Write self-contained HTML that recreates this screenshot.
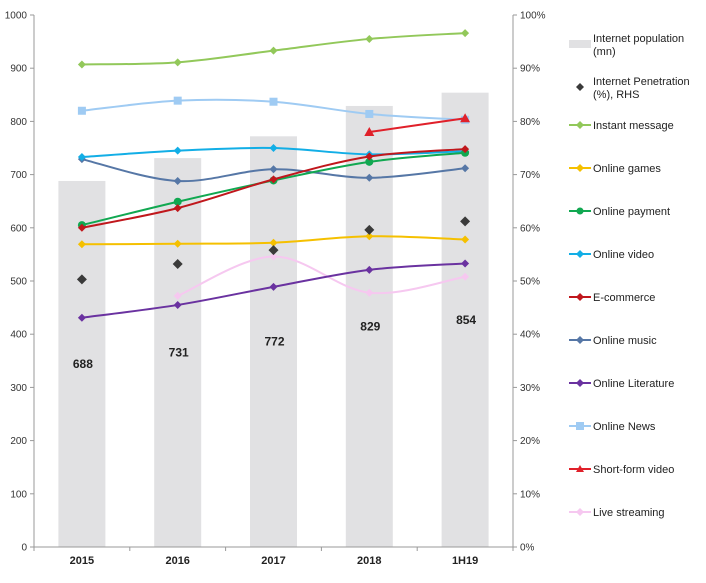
<!DOCTYPE html>
<html><head><meta charset="utf-8"><style>
body{margin:0;background:#fff;font-family:"Liberation Sans",Arial,sans-serif}
svg text{font-family:"Liberation Sans",Arial,sans-serif}
</style></head><body>
<svg id="c" width="706" height="578"></svg>
<script>
const categories=["2015","2016","2017","2018","1H19"];
const population=[688,731,772,829,854];
const penetration=[50.3,53.2,55.8,59.6,61.2];
const instantMessage=[907,911,933,955,966];
const onlineGames=[569,570,572,584,578];
const onlinePayment=[605,649,689,724,741];
const onlineVideo=[733,745,750,738,744];
const eCommerce=[600,637,691,734,748];
const onlineMusic=[729,688,710,694,712];
const onlineLiterature=[431,455,489,521,533];
const onlineNews=[820,839,837,814,803];
const shortVideo=[null,null,null,780,806];
const liveStreaming=[null,472,546,478,508];
const leftTicks=[0,100,200,300,400,500,600,700,800,900,1000];
const rightTicks=["0%","10%","20%","30%","40%","50%","60%","70%","80%","90%","100%"];

const NS="http://www.w3.org/2000/svg";
const svg=document.getElementById('c');
const X0=34,X1=513,Y0=547,Y1=15;
const y=v=>Y0-(v/1000)*(Y0-Y1);
const yr=p=>Y0-(p/100)*(Y0-Y1);
const step=(X1-X0)/categories.length;
const x=i=>X0+step*(i+0.5);
function el(t,a,p){const e=document.createElementNS(NS,t);for(const k in a)e.setAttribute(k,a[k]);(p||svg).appendChild(e);return e;}

population.forEach((v,i)=>{
  const r=el('rect',{x:x(i)-23.5,y:y(v),width:47,height:Y0-y(v),fill:'#e1e1e3'});
  
  
  const t=el('text',{x:x(i)+1,y:(y(v)+Y0)/2+4,'font-size':12,'font-weight':'bold','text-anchor':'middle',fill:'#222'});
  t.textContent=v;
  
  
});
el('line',{x1:X0,y1:Y1,x2:X0,y2:Y0,stroke:'#999'});
el('line',{x1:X1,y1:Y1,x2:X1,y2:Y0,stroke:'#999'});
el('line',{x1:X0,y1:Y0,x2:X1,y2:Y0,stroke:'#999'});
leftTicks.forEach((v,i)=>{
  el('line',{x1:X0-4,y1:y(v),x2:X0,y2:y(v),stroke:'#999'});
  el('line',{x1:X1,y1:y(v),x2:X1+4,y2:y(v),stroke:'#999'});
  const t=el('text',{x:X0-7,y:y(v)+3.5,'font-size':10,'text-anchor':'end',fill:'#333'});t.textContent=v;
  
  
  const r=el('text',{x:X1+7,y:y(v)+3.5,'font-size':10,fill:'#333'});r.textContent=rightTicks[i];
  
  
});
for(let i=0;i<=categories.length;i++)el('line',{x1:X0+step*i,y1:Y0,x2:X0+step*i,y2:Y0+4,stroke:'#999'});
categories.forEach((c,i)=>{
  const t=el('text',{x:x(i),y:Y0+17,'font-size':11,'font-weight':'bold','text-anchor':'middle',fill:'#222'});t.textContent=c;
  
  
});

function marker(shape,cx,cy,color,s){
  if(shape==='d')return el('path',{d:`M${cx} ${cy-s}L${cx+s} ${cy}L${cx} ${cy+s}L${cx-s} ${cy}Z`,fill:color});
  if(shape==='s')return el('rect',{x:cx-4,y:cy-4,width:8,height:8,fill:color});
  if(shape==='c')return el('circle',{cx,cy,r:4,fill:color});
  if(shape==='t')return el('path',{d:`M${cx} ${cy-5}L${cx+5} ${cy+4}L${cx-5} ${cy+4}Z`,fill:color});
}
function smooth(pts){
  let d=`M${pts[0][0]} ${pts[0][1]}`;
  for(let i=0;i<pts.length-1;i++){
    const p0=pts[i-1]||pts[i],p1=pts[i],p2=pts[i+1],p3=pts[i+2]||p2;
    const c1=[p1[0]+(p2[0]-p0[0])/6,p1[1]+(p2[1]-p0[1])/6],c2=[p2[0]-(p3[0]-p1[0])/6,p2[1]-(p3[1]-p1[1])/6];
    d+=`C${c1[0]} ${c1[1]} ${c2[0]} ${c2[1]} ${p2[0]} ${p2[1]}`;
  }
  return d;
}
const series=[
 ['instant-message',instantMessage,'#92c85a','d'],
 ['online-news',onlineNews,'#9fcbf3','s'],
 ['online-music',onlineMusic,'#5677a6','d'],
 ['online-games',onlineGames,'#f5c000','d'],
 ['live-streaming',liveStreaming,'#f6c8f0','d'],
 ['online-literature',onlineLiterature,'#6a32a0','d'],
 ['online-video',onlineVideo,'#12aee6','d'],
 ['online-payment',onlinePayment,'#11a851','c'],
 ['e-commerce',eCommerce,'#c0171c','d'],
 ['short-form-video',shortVideo,'#e0202a','t'],
];
series.forEach(([n,vals,col,sh])=>{
  const pts=[];vals.forEach((v,i)=>{if(v!=null)pts.push([x(i),y(v)]);});
  const p=el('path',{d:smooth(pts),fill:'none',stroke:col,'stroke-width':2});
  
  
  pts.forEach(q=>{const m=marker(sh,q[0],q[1],col,4);
    
    });
});
penetration.forEach((p,i)=>{const m=marker('d',x(i),yr(p),'#3a3a3a',5);
  
  });

const legend=[
 ['Internet population','(mn)','bar','#e1e1e3'],
 ['Internet Penetration','(%), RHS','d','#3a3a3a'],
 ['Instant message',null,'ld','#92c85a'],
 ['Online games',null,'ld','#f5c000'],
 ['Online payment',null,'lc','#11a851'],
 ['Online video',null,'ld','#12aee6'],
 ['E-commerce',null,'ld','#c0171c'],
 ['Online music',null,'ld','#5677a6'],
 ['Online Literature',null,'ld','#6a32a0'],
 ['Online News',null,'ls','#9fcbf3'],
 ['Short-form video',null,'lt','#e0202a'],
 ['Live streaming',null,'ld','#f6c8f0'],
];
legend.forEach(([a,b,t,col],i)=>{
  const cy=b?44+i*43:39+i*43;
  const g=el('g',{});
  
  
  if(t==='bar')el('rect',{x:569,y:cy-4,width:22,height:8,fill:col},g);
  else if(t==='d'){el('path',{d:`M580 ${cy-4}L584 ${cy}L580 ${cy+4}L576 ${cy}Z`,fill:col},g);}
  else{el('line',{x1:569,y1:cy,x2:591,y2:cy,stroke:col,'stroke-width':2},g);
    const s=t[1];
    if(s==='d')el('path',{d:`M580 ${cy-4}L584 ${cy}L580 ${cy+4}L576 ${cy}Z`,fill:col},g);
    if(s==='c')el('circle',{cx:580,cy,r:3.5,fill:col},g);
    if(s==='s')el('rect',{x:576,y:cy-4,width:8,height:8,fill:col},g);
    if(s==='t')el('path',{d:`M580 ${cy-4}L584 ${cy+3}L576 ${cy+3}Z`,fill:col},g);}
  const tx=el('text',{x:593,y:b?cy-2:cy+4,'font-size':11,fill:'#222'},g);tx.textContent=a;
  if(b){const t2=el('text',{x:593,y:cy+11,'font-size':11,fill:'#222'},g);t2.textContent=b;}
});
</script>
</body></html>
